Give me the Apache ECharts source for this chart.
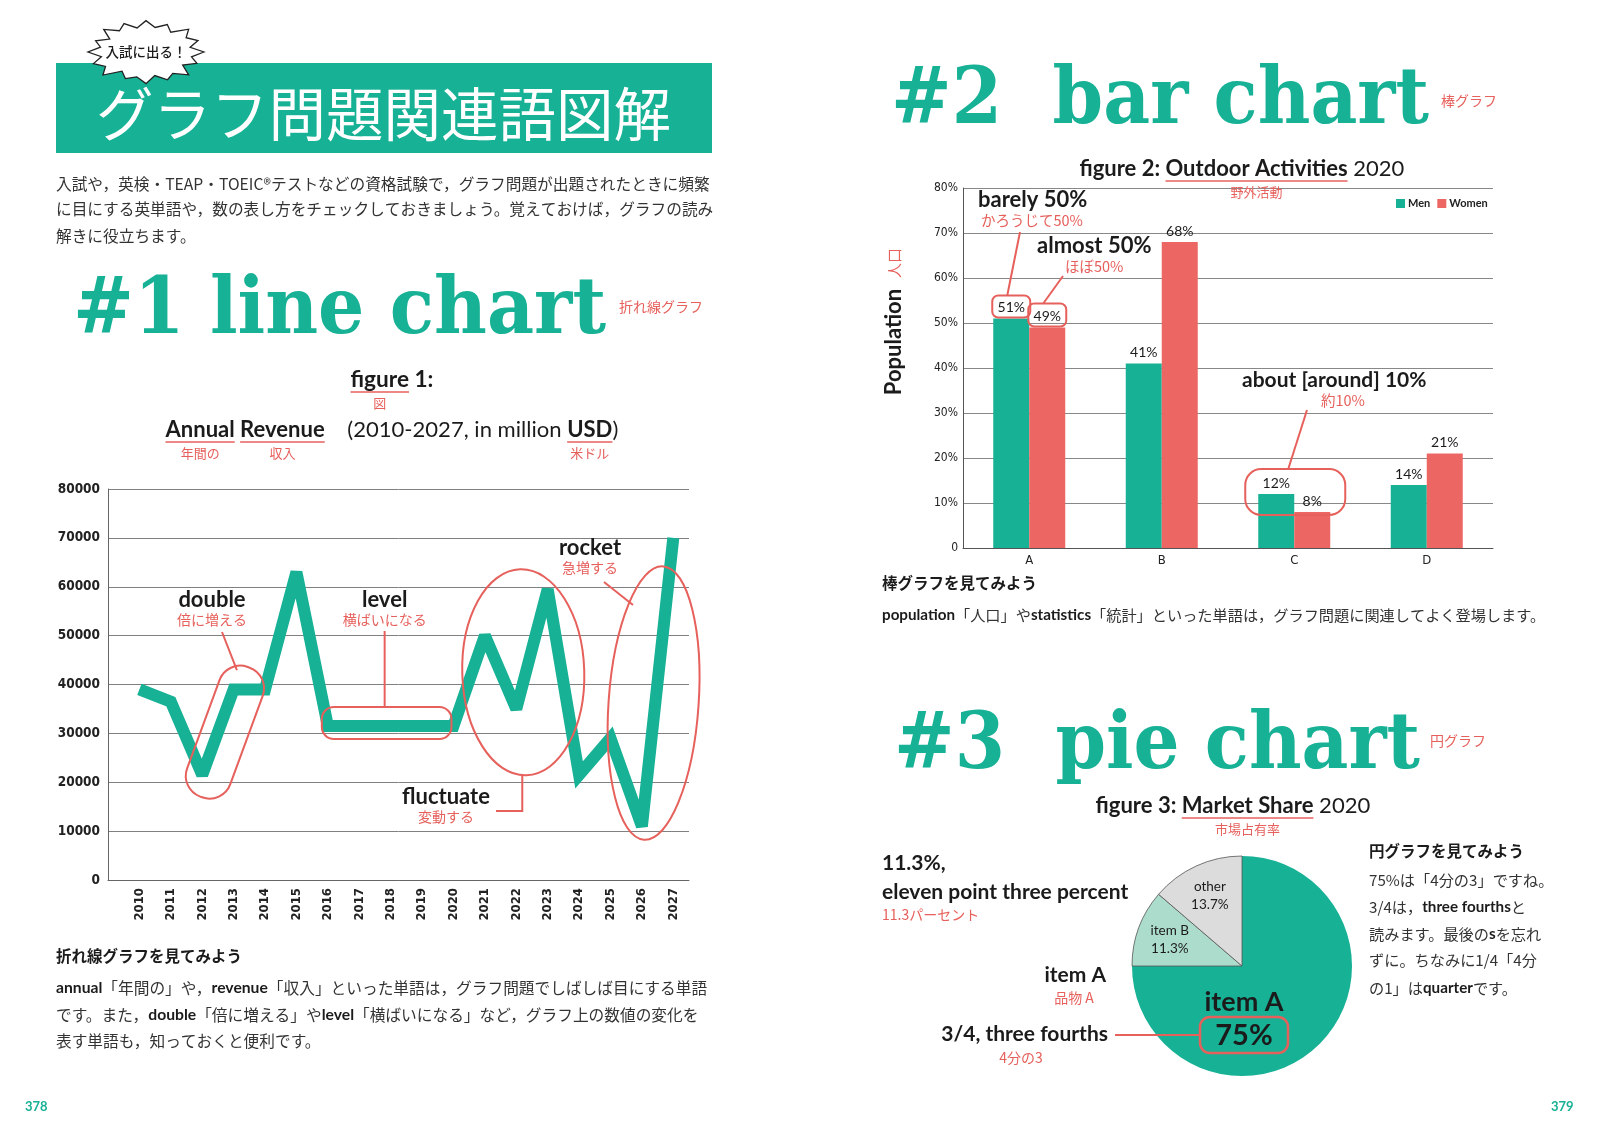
<!DOCTYPE html>
<html><head><meta charset="utf-8">
<script src="https://cdn.jsdelivr.net/npm/echarts@6/dist/echarts.min.js"></script>
<style>html,body{margin:0;padding:0;background:#fff}#c{width:1600px;height:1138px}</style>
</head><body><div id="c"></div>
<script>
// ---------------- DATA ----------------
const years = [2010,2011,2012,2013,2014,2015,2016,2017,2018,2019,2020,2021,2022,2023,2024,2025,2026,2027];
const revenue = [39000,36500,21500,39000,39000,63000,31500,31500,31500,31500,31500,50000,35000,59500,21500,29000,11000,70000];
const revenueTicks = [0,10000,20000,30000,40000,50000,60000,70000,80000];
const barCategories = ['A','B','C','D'];
const menPct = [51,41,12,14];
const womenPct = [49,68,8,21];
const barTicks = [0,10,20,30,40,50,60,70,80];
const pieNames = ['item A','item B','other'];
const pieValues = [75,11.3,13.7];

// ---------------- STYLE ----------------
const TEAL='#17b196', RED='#e6605c', WRED='#ec6663', MINT='#acdccb', GRAY='#dcdcdc', INK='#1b1b1b';
const EN = "Lato, 'Noto Sans CJK JP', sans-serif";
const JP = "'Noto Sans CJK JP', sans-serif";
const COND = "'Liberation Sans Narrow', 'DejaVu Sans Condensed', Roboto, sans-serif";
const SERIF = "'DejaVu Serif', serif";

const cv = document.createElement('canvas').getContext('2d');
function mw(text, font){ cv.font = font; return cv.measureText(text).width; }

const chart = echarts.init(document.getElementById('c'), null, {renderer:'canvas', width:1600, height:1138});

const yr = y => years.indexOf(y);

const option = {
  animation:false,
  backgroundColor:'#fff',
  grid:[
    {left:108, top:489, width:581, height:391, outerBoundsMode:'none'},
    {left:963, top:188, width:530, height:360, outerBoundsMode:'none'}
  ],
  xAxis:[
    {type:'value', gridIndex:0, min:years[0]-1, max:years[years.length-1]+0.5, interval:1,
     axisLine:{show:true, lineStyle:{color:'#666', width:1}}, axisTick:{show:false}, splitLine:{show:false},
     axisLabel:{rotate:90, margin:8, fontFamily:COND, fontSize:13, fontWeight:'bold', color:'#222', showMaxLabel:false,
       formatter: v => (Number.isInteger(v) && years.indexOf(v) >= 0) ? String(v) : ''}},
    {type:'category', gridIndex:1, data:barCategories,
     axisLine:{show:true, lineStyle:{color:'#555', width:1}}, axisTick:{show:false},
     axisLabel:{margin:6, fontFamily:COND, fontSize:13, color:'#222'}}
  ],
  yAxis:[
    {type:'value', gridIndex:0, min:revenueTicks[0], max:revenueTicks[revenueTicks.length-1], interval:revenueTicks[1]-revenueTicks[0],
     axisLine:{show:true, lineStyle:{color:'#666', width:1}}, axisTick:{show:false},
     splitLine:{show:true, lineStyle:{color:'#808080', width:1}},
     axisLabel:{margin:8, fontFamily:COND, fontSize:13.5, fontWeight:'bold', color:'#222', formatter: v => String(v)}},
    {type:'value', gridIndex:1, min:barTicks[0], max:barTicks[barTicks.length-1], interval:barTicks[1]-barTicks[0],
     axisLine:{show:true, lineStyle:{color:'#555', width:1}}, axisTick:{show:false},
     splitLine:{show:true, lineStyle:{color:'#888', width:1}},
     axisLabel:{margin:5, fontFamily:COND, fontSize:12, color:'#222', formatter: v => v===0 ? '0' : v+'%'}}
  ],
  legend:{data:['Men','Women'], left:1391, top:193, itemWidth:9, itemHeight:9, itemGap:7, icon:'rect',
    textStyle:{fontSize:11, fontFamily:EN, fontWeight:'bold', color:'#222', padding:[0,0,0,-2]}},
  series:[
    {type:'line', xAxisIndex:0, yAxisIndex:0, data: years.map((y,i)=>[y, revenue[i]]),
     symbol:'none', lineStyle:{width:12, color:TEAL, join:'miter', miterLimit:2.5}, itemStyle:{color:TEAL}, z:3, silent:true},
    {type:'bar', name:'Men', xAxisIndex:1, yAxisIndex:1, data:menPct, barWidth:36, barGap:'0%',
     itemStyle:{color:TEAL}, silent:true,
     label:{show:true, position:'top', distance:4, formatter:'{c}%', fontFamily:EN, fontSize:14, color:'#1b1b1b'}},
    {type:'bar', name:'Women', xAxisIndex:1, yAxisIndex:1, data:womenPct, barWidth:36, barGap:'0%',
     itemStyle:{color:WRED}, silent:true,
     label:{show:true, position:'top', distance:4, formatter:'{c}%', fontFamily:EN, fontSize:14, color:'#1b1b1b'}},
    {type:'pie', center:[1242,966], radius:110, startAngle:90, clockwise:true, silent:true,
     label:{show:false}, labelLine:{show:false},
     data: pieNames.map((n,i)=>({name:n, value:pieValues[i],
       itemStyle:{color:[TEAL,MINT,GRAY][i], borderColor: i ? '#555' : TEAL, borderWidth: i ? 0.8 : 0}}))}
  ]
};
chart.setOption(option);

// ---------------- GRAPHICS ----------------
function T(x, y, text, o) {
  o = o || {};
  const el = {type:'text', x:x, y:y, z:o.z||20, silent:true, rotation:o.rot||0,
    scaleX:o.sx||1, scaleY:o.sy||1,
    style:{text:text, font:o.font||`normal 16px ${JP}`, fill:o.fill||INK,
      align:o.a||'left', verticalAlign:o.v||'middle', textAlign:o.a||'left', textVerticalAlign:o.v||'middle'}};
  if (o.rich) el.style.rich = o.rich;
  return el;
}
function L(x1,y1,x2,y2,c,w){ return {type:'line', z:15, silent:true, shape:{x1,y1,x2,y2}, style:{stroke:c||RED, lineWidth:w||2}}; }
function PL(points,c,w){ return {type:'polyline', z:15, silent:true, shape:{points}, style:{stroke:c||RED, lineWidth:w||2, fill:null}}; }
function RR(x,y,w,h,r,c,lw){ return {type:'rect', z:15, silent:true, shape:{x,y,width:w,height:h,r}, style:{fill:'none', stroke:c||RED, lineWidth:lw||2}}; }
function EL(cx,cy,rx,ry,rot){ return {type:'ellipse', z:15, silent:true, x:cx, y:cy, rotation:rot||0, shape:{cx:0,cy:0,rx,ry}, style:{fill:'none', stroke:RED, lineWidth:2}}; }

// title sequence with underlines and red sub labels, centered at cx
function seq(cx, y, parts, target, baseSize) {
  const els = [];
  let fs = baseSize;
  const fontOf = (p, s) => `${p.b ? 'bold' : 'normal'} ${s}px ${EN}`;
  let total = parts.reduce((a,p)=>a+mw(p.t, fontOf(p, fs)),0);
  if (target) { fs = fs*target/total; total = target; }
  let x = cx - total/2;
  parts.forEach(p => {
    const f = fontOf(p, fs);
    const w = mw(p.t, f);
    els.push(T(x, y, p.t, {font:f}));
    if (p.u) els.push(L(x, y+12, x+w, y+12, RED, 1.6));
    if (p.sub) els.push(T(x+w/2, y+23, p.sub, {font:`normal 13px ${JP}`, fill:RED, a:'center'}));
    x += w;
  });
  return els;
}

function heading(left, right, baseline, text, sub, subX, subY) {
  const fs = 79;
  const f = `bold ${fs}px ${SERIF}`;
  const w = mw(text, f);
  return [
    T(left, baseline - 0.297*fs + 4, text, {font:f, fill:TEAL, sx:(right-left)/w}),
    T(subX, subY, sub, {font:`normal 14px ${JP}`, fill:RED})
  ];
}

const g = [];

// ---- header block
g.push({type:'rect', z:5, silent:true, shape:{x:56,y:63,width:656,height:90}, style:{fill:TEAL}});
g.push(T(96, 114, 'グラフ問題関連語図解', {font:`normal 57.5px ${JP}`, fill:'#fff'}));
// burst bubble
(function(){
  const cx=146, cy=52, N=16, pts=[];
  const jit=[1,0.95,1.04,0.97,1.02,0.93,1.05,0.98,1.0,0.94,1.03,0.99,1.01,0.96,1.04,0.97];
  for (let i=0;i<2*N;i++){
    const a = i*Math.PI/N;
    const r = (i%2 ? 0.8 : 1) * jit[Math.floor(i/2)];
    pts.push([cx+58*r*Math.cos(a), cy+31*r*Math.sin(a)]);
  }
  g.push({type:'polygon', z:25, silent:true, shape:{points:pts}, style:{fill:'#fff', stroke:'#222', lineWidth:1.3}});
  g.push(T(cx, cy, '入試に出る！', {font:`500 13.5px ${JP}`, a:'center', z:26}));
})();

// intro paragraph
const introLines = [
  '入試や，英検・TEAP・TOEIC®テストなどの資格試験で，グラフ問題が出題されたときに頻繁',
  'に目にする英単語や，数の表し方をチェックしておきましょう。覚えておけば，グラフの読み',
  '解きに役立ちます。'
];
[184,209,236].forEach((y,i)=>g.push(T(56, y, introLines[i], {font:`normal 15.7px ${JP}`, fill:'#333'})));

// ---- headings
g.push(...heading(73, 606, 332, '#1 line chart', '折れ線グラフ', 619, 307));
g.push(...heading(891, 1429, 122, '#2  bar chart', '棒グラフ', 1441, 101));
g.push(...heading(894, 1420, 767, '#3  pie chart', '円グラフ', 1430, 741));

// ---- figure 1 titles
g.push(...seq(392, 380, [{t:'figure', b:true, u:true, sub:'図'}, {t:' 1:', b:true}], 83, 21));
g.push(...seq(392, 430, [
  {t:'Annual', b:true, u:true, sub:'年間の'}, {t:' ', b:true},
  {t:'Revenue', b:true, u:true, sub:'収入'},
  {t:'    (2010-2027, in million ', b:false},
  {t:'USD', b:true, u:true, sub:'米ドル'}, {t:')', b:false}
], 453, 21));

// ---- line chart annotations
const P0 = (x,v) => chart.convertToPixel({gridIndex:0}, [x, v]);
(function(){
  const a = P0(2012, revenue[yr(2012)]), b = P0(2013, revenue[yr(2013)]);
  const mx = (a[0]+b[0])/2 + 7, my = (a[1]+b[1])/2;
  const ang = Math.atan2(b[0]-a[0], a[1]-b[1]);
  g.push({type:'rect', z:15, silent:true, x:mx, y:my, rotation:-ang,
    shape:{x:-23, y:-69, width:46, height:138, r:22}, style:{fill:'none', stroke:RED, lineWidth:2}});
  g.push(T(212, 600, 'double', {font:`bold 22px ${EN}`, a:'center'}));
  g.push(T(212, 620, '倍に増える', {font:`normal 14px ${JP}`, fill:RED, a:'center'}));
  g.push(L(222, 632, mx+12, my-62));

  const l1 = P0(2016, revenue[yr(2016)]), l2 = P0(2020, revenue[yr(2020)]);
  const rx = l1[0]-6, rw = (l2[0]-2) - rx;
  g.push(RR(rx, l1[1]-19, rw, 32, 12));
  const lcx = rx + rw/2 - 2;
  g.push(T(lcx, 600, 'level', {font:`bold 22px ${EN}`, a:'center'}));
  g.push(T(lcx, 620, '横ばいになる', {font:`normal 14px ${JP}`, fill:RED, a:'center'}));
  g.push(L(lcx, 631, lcx, l1[1]-19));

  const f1 = P0(2021, 42500), f3 = P0(2023, 42500);
  const fcx = (f1[0]+f3[0])/2 + 7, fcy = f1[1];
  g.push(EL(fcx, fcy, 61, 103, 0.03));
  g.push(T(446, 797, 'fluctuate', {font:`bold 22px ${EN}`, a:'center'}));
  g.push(T(446, 817, '変動する', {font:`normal 14px ${JP}`, fill:RED, a:'center'}));
  g.push(PL([[fcx-1, fcy+103], [fcx-1, 811], [496, 811]]));

  const r1 = P0(2026, 36200), r2 = P0(2027, 36200);
  const rcx = (r1[0]+r2[0])/2 - 4, rcy = r1[1];
  g.push(EL(rcx, rcy, 45, 137, -0.07));
  g.push(T(590, 548, 'rocket', {font:`bold 22px ${EN}`, a:'center'}));
  g.push(T(590, 568, '急増する', {font:`normal 14px ${JP}`, fill:RED, a:'center'}));
  g.push(L(604, 582, 633, 605));
})();

// line section text
g.push(T(56, 956, '折れ線グラフを見てみよう', {font:`bold 15.5px ${JP}`}));
const richB = {b:{font:`bold 15.7px ${EN}`, fill:INK, color:INK}};
g.push(T(56, 988, '{b|annual}「年間の」や，{b|revenue}「収入」といった単語は，グラフ問題でしばしば目にする単語', {font:`normal 15.7px ${JP}`, fill:'#333', rich:richB}));
g.push(T(56, 1015, 'です。また，{b|double}「倍に増える」や{b|level}「横ばいになる」など，グラフ上の数値の変化を', {font:`normal 15.7px ${JP}`, fill:'#333', rich:richB}));
g.push(T(56, 1041, '表す単語も，知っておくと便利です。', {font:`normal 15.7px ${JP}`, fill:'#333'}));

// ---- bar chart extras
g.push(...seq(1242, 169, [{t:'figure 2: ', b:true}, {t:'Outdoor Activities', b:true, u:true, sub:'野外活動'}, {t:' 2020', b:false}], 325, 21));
g.push(T(894, 342, 'Population', {font:`bold 22px ${EN}`, a:'center', rot:Math.PI/2}));
g.push(T(894, 263, '人口', {font:`normal 15px ${JP}`, fill:RED, a:'center', rot:Math.PI/2}));

const P1 = (c,v) => chart.convertToPixel({gridIndex:1}, [c, v]);
(function(){
  const bw = 36;
  const mA = P1(0, menPct[0]), wA = P1(0, womenPct[0]);
  const r51 = [mA[0]-bw-1, mA[1]-23, bw+2, 22];
  const r49 = [wA[0]-1, wA[1]-24, bw+2, 23];
  g.push(RR(r51[0], r51[1], r51[2], r51[3], 6));
  g.push(RR(r49[0], r49[1], r49[2], r49[3], 6));
  g.push(T(978, 200, 'barely 50%', {font:`bold 22px ${EN}`}));
  g.push(T(981, 220, 'かろうじて50%', {font:`normal 14.5px ${JP}`, fill:RED}));
  g.push(L(1020, 232, r51[0]+r51[2]/2-4, r51[1]));
  g.push(T(1037, 246, 'almost 50%', {font:`bold 22px ${EN}`}));
  g.push(T(1065, 266, 'ほぼ50%', {font:`normal 14.5px ${JP}`, fill:RED}));
  g.push(L(1063, 276, r49[0]+r49[2]/2-4, r49[1]));

  const mC = P1(2, menPct[2]);
  const rc = [mC[0]-49, mC[1]-25, 100, 46];
  g.push(RR(rc[0], rc[1], rc[2], rc[3], 16));
  g.push(T(1242, 380, 'about [around] 10%', {font:`bold 21px ${EN}`}));
  g.push(T(1343, 400, '約10%', {font:`normal 14.5px ${JP}`, fill:RED, a:'center'}));
  g.push(L(1307, 410, mC[0]-6, rc[1]));
})();
g.push(T(882, 583, '棒グラフを見てみよう', {font:`bold 15.5px ${JP}`}));
g.push(T(882, 615, '{b|population}「人口」や{b|statistics}「統計」といった単語は，グラフ問題に関連してよく登場します。',
  {font:`normal 15.2px ${JP}`, fill:'#333', rich:{b:{font:`bold 15.2px ${EN}`, fill:INK, color:INK}}}));

// ---- pie extras
g.push(...seq(1233, 806, [{t:'figure 3: ', b:true}, {t:'Market Share', b:true, u:true, sub:'市場占有率'}, {t:' 2020', b:false}], 275, 21));
(function(){
  const cx = 1242, cy = 966, R = 110;
  const total = pieValues.reduce((a,b)=>a+b,0);
  let acc = 0;
  const mids = pieValues.map(v => { const m = (acc + v/2)/total*2*Math.PI; acc += v; return m; });
  const lab = (i, l1, l2) => {
    const x = cx + 0.7*R*Math.sin(mids[i]), y = cy - 0.7*R*Math.cos(mids[i]);
    g.push(T(x, y-9, l1, {font:`normal 13.5px ${EN}`, a:'center', z:30}));
    g.push(T(x, y+9, l2, {font:`normal 13.5px ${EN}`, a:'center', z:30}));
  };
  lab(1, pieNames[1], pieValues[1]+'%');
  lab(2, pieNames[2], pieValues[2]+'%');
  g.push(T(cx+2, cy+36, pieNames[0], {font:`bold 27px ${EN}`, a:'center', z:30}));
  g.push(T(cx+2, cy+70, pieValues[0]+'%', {font:`bold 29px ${EN}`, a:'center', z:30}));
  g.push(Object.assign(RR(cx-42, cy+51, 88, 36, 10, RED, 2.5), {z:30}));
  g.push(L(1115, cy+69, cx-42, cy+69, RED, 2));
})();
g.push(T(882, 863, '11.3%,', {font:`bold 21px ${EN}`}));
g.push(T(882, 892, 'eleven point three percent', {font:`bold 21px ${EN}`}));
g.push(T(882, 915, '11.3パーセント', {font:`normal 14px ${JP}`, fill:RED}));
g.push(T(1106, 975, 'item A', {font:`bold 21px ${EN}`, a:'right'}));
g.push(T(1074, 998, '品物 A', {font:`normal 14px ${JP}`, fill:RED, a:'center'}));
g.push(T(1108, 1034, '3/4, three fourths', {font:`bold 21px ${EN}`, a:'right'}));
g.push(T(1021, 1058, '4分の3', {font:`normal 14px ${JP}`, fill:RED, a:'center'}));

const rB = {b:{font:`bold 15.2px ${EN}`, fill:INK, color:INK}};
g.push(T(1369, 851, '円グラフを見てみよう', {font:`bold 15.5px ${JP}`}));
['75%は「4分の3」ですね。', '3/4は，{b|three fourths}と', '読みます。最後の{b|s}を忘れ', 'ずに。ちなみに1/4「4分', 'の1」は{b|quarter}です。']
  .forEach((t,i)=>g.push(T(1369, [880,907,934,960,988][i], t, {font:`normal 15.2px ${JP}`, fill:'#333', rich:rB})));

// page numbers
g.push(T(25, 1107, '378', {font:`bold 13px ${EN}`, fill:TEAL}));
g.push(T(1551, 1107, '379', {font:`bold 13px ${EN}`, fill:TEAL}));

chart.setOption({graphic:{elements:g}});
</script>
</body></html>
